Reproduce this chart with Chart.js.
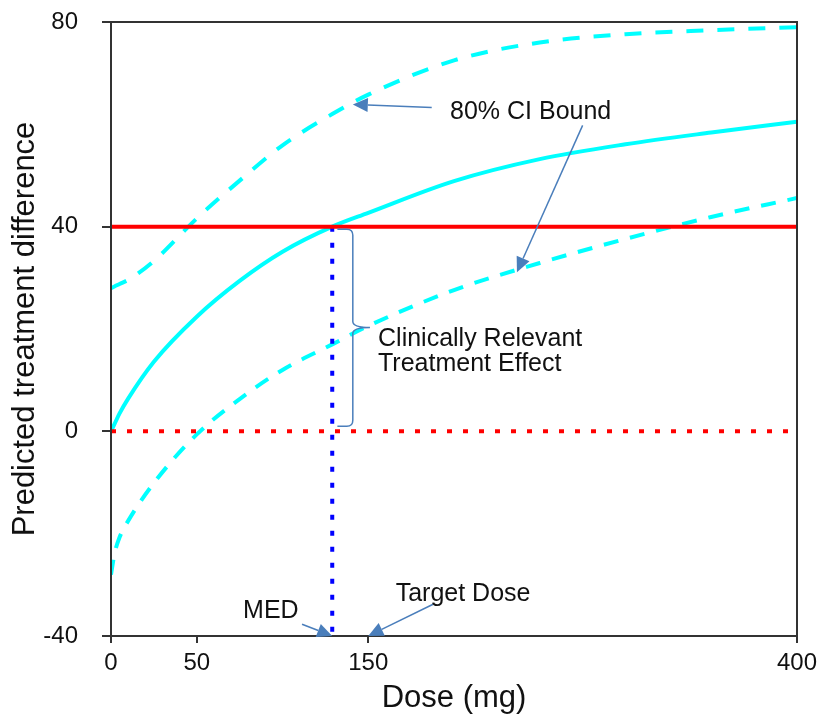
<!DOCTYPE html>
<html>
<head>
<meta charset="utf-8">
<script src="https://cdn.jsdelivr.net/npm/chart.js@4/dist/chart.umd.min.js"></script>
<style>
  body { margin: 0; background: #fff; }
  #wrap { width: 819px; height: 715px; }
</style>
</head>
<body>
<div id="wrap"><canvas id="myChart" width="819" height="715"></canvas></div>
<script>
// values
const doses = [0, 2, 5, 10, 25, 50, 75, 100, 129, 150, 200, 250, 300, 350, 400];
const meanEffect = [0, 1.4, 3.5, 6.4, 13.6, 22.4, 29.4, 35.1, 40, 42.7, 48.9, 53.2, 56.1, 58.4, 60.5];
const upperBound = [28, 28.3, 28.8, 29.6, 33.3, 41.6, 49, 55.9, 62, 65.8, 72.5, 76, 77.6, 78.4, 79];
const lowerBound = [-28, -24, -20.7, -17.5, -10.1, -0.6, 6.3, 12, 17, 20.6, 27.6, 32.9, 37.6, 41.9, 45.6];
const xTickVals = [0, 50, 150, 400];
const yTickVals = [-40, 0, 40, 80];
const relevantDiff = 40;
const zeroDiff = 0;
const medDose = 129;
const targetDose = 150;

const FONT = "'Liberation Sans', Arial, sans-serif";
const ARROW = "#4a7ebb";

function pts(ys) {
    return doses.map(function(d, i) { return {x: d, y: ys[i]}; });
}

function drawArrow(ctx, x1, y1, x2, y2) {
    let ang = Math.atan2(y2 - y1, x2 - x1);
    let len = 15, half = 7;
    ctx.beginPath();
    ctx.moveTo(x1, y1);
    ctx.lineTo(x2 - Math.cos(ang) * len, y2 - Math.sin(ang) * len);
    ctx.stroke();
    ctx.beginPath();
    ctx.moveTo(x2, y2);
    ctx.lineTo(x2 - Math.cos(ang) * len - Math.sin(ang) * half, y2 - Math.sin(ang) * len + Math.cos(ang) * half);
    ctx.lineTo(x2 - Math.cos(ang) * len + Math.sin(ang) * half, y2 - Math.sin(ang) * len - Math.cos(ang) * half);
    ctx.closePath();
    ctx.fill();
}

const annotPlugin = {
    id: 'annot',
    afterDatasetsDraw(chart) {
        const ctx = chart.ctx;
        const a = chart.chartArea;
        const xs = chart.scales.x, ys = chart.scales.y;
        const px = v => xs.getPixelForValue(v);
        const py = v => ys.getPixelForValue(v);
        ctx.save();
        // frame
        ctx.strokeStyle = "#333";
        ctx.lineWidth = 2;
        ctx.strokeRect(a.left, a.top, a.right - a.left, a.bottom - a.top);

        // arrows
        ctx.strokeStyle = ARROW;
        ctx.fillStyle = ARROW;
        ctx.lineWidth = 1.5;
        drawArrow(ctx, px(187), py(63.3), px(141), py(63.9));
        drawArrow(ctx, px(275), py(59.8), px(236.7), py(31.1));
        drawArrow(ctx, px(111.4), py(-37.7), px(medDose), py(-40));
        drawArrow(ctx, px(187.8), py(-33.8), px(targetDose), py(-40));

        // brace
        let bx0 = px(132), bx1 = px(141), bx2 = px(151);
        let yt = py(39.5), ym = py(20.3), yb = py(1);
        let r = 6;
        ctx.beginPath();
        ctx.moveTo(bx0, yt);
        ctx.lineTo(bx1 - r, yt);
        ctx.quadraticCurveTo(bx1, yt, bx1, yt + r);
        ctx.lineTo(bx1, ym - r);
        ctx.quadraticCurveTo(bx1, ym, bx2, ym);
        ctx.quadraticCurveTo(bx1, ym, bx1, ym + r);
        ctx.lineTo(bx1, yb - r);
        ctx.quadraticCurveTo(bx1, yb, bx1 - r, yb);
        ctx.lineTo(bx0, yb);
        ctx.stroke();

        // labels
        ctx.fillStyle = "#111";
        ctx.font = "25px " + FONT;
        ctx.textAlign = "left";
        ctx.textBaseline = "alphabetic";
        ctx.fillText("80% CI Bound", px(197.7), py(61.1));
        ctx.fillText("Clinically Relevant", px(155.7), py(16.6));
        ctx.fillText("Treatment Effect", px(155.7), py(11.7));
        ctx.fillText("MED", px(77), py(-36.5));
        ctx.fillText("Target Dose", px(166), py(-33.2));
        ctx.restore();
    }
};

const canvas = document.getElementById("myChart").getContext("2d");
const myChart = new Chart(canvas, {
    type: 'line',
    data: {
        datasets: [
            {
                data: [{x: 0, y: relevantDiff}, {x: 400, y: relevantDiff}],
                borderColor: '#ff0000', borderWidth: 4, order: 1
            },
            {
                data: [{x: medDose, y: relevantDiff}, {x: medDose, y: -40}],
                borderColor: '#0000ff', borderWidth: 4, borderDash: [5, 11], order: 2
            },
            {
                data: [{x: 0, y: zeroDiff}, {x: 400, y: zeroDiff}],
                borderColor: '#ff0000', borderWidth: 4, borderDash: [5, 11], order: 3
            },
            {
                data: pts(meanEffect),
                borderColor: '#00ffff', borderWidth: 4, cubicInterpolationMode: 'monotone', order: 4
            },
            {
                data: pts(upperBound),
                borderColor: '#00ffff', borderWidth: 4, borderDash: [17, 14], cubicInterpolationMode: 'monotone', order: 5
            },
            {
                data: pts(lowerBound),
                borderColor: '#00ffff', borderWidth: 4, borderDash: [15, 12], cubicInterpolationMode: 'monotone', order: 6
            }
        ]
    },
    options: {
        responsive: false,
        animation: false,
        devicePixelRatio: 1,
        layout: {padding: {top: 22, right: 22, left: 0, bottom: 0}},
        elements: {point: {radius: 0}},
        plugins: {legend: {display: false}, tooltip: {enabled: false}},
        scales: {
            x: {
                type: 'linear',
                min: 0,
                max: 400,
                afterBuildTicks: function(scale) {
                    scale.ticks = xTickVals.map(v => ({value: v}));
                },
                afterFit: function(scale) {
                    scale.height = 79;
                    scale.paddingLeft = 0;
                    scale.paddingRight = 0;
                },
                grid: {drawOnChartArea: false, drawTicks: true, tickLength: 7, color: '#333', lineWidth: 2},
                border: {display: true, color: '#333', width: 2},
                ticks: {color: '#111', font: {family: FONT, size: 24}, padding: 6, maxRotation: 0, autoSkip: false},
                title: {display: true, text: 'Dose (mg)', color: '#111', font: {family: FONT, size: 31, lineHeight: 1}, padding: {top: 0, bottom: 1}}
            },
            y: {
                min: -40,
                max: 80,
                afterBuildTicks: function(scale) {
                    scale.ticks = yTickVals.map(v => ({value: v}));
                },
                afterFit: function(scale) {
                    scale.width = 111;
                    scale.paddingTop = 0;
                    scale.paddingBottom = 0;
                },
                grid: {drawOnChartArea: false, drawTicks: true, tickLength: 9, color: '#333', lineWidth: 2},
                border: {display: true, color: '#333', width: 2},
                ticks: {color: '#111', font: {family: FONT, size: 24}, padding: 24},
                title: {display: true, text: 'Predicted treatment difference', color: '#111', font: {family: FONT, size: 31}, padding: {top: 7, bottom: 0}}
            }
        }
    },
    plugins: [annotPlugin]
});
</script>
</body>
</html>
